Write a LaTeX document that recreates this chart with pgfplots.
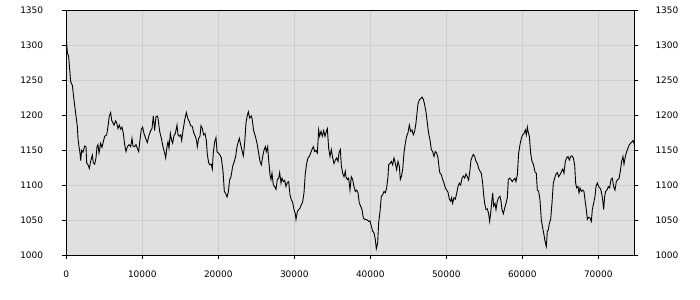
\documentclass[border=0pt]{standalone}
\usepackage{fontspec}
\setmainfont{DejaVu Sans}
\usepackage{pgfplots}
\pgfplotsset{compat=1.18}
\definecolor{bgc}{RGB}{224,224,224}
\definecolor{gridc}{RGB}{206,206,206}
\begin{document}
\begin{tikzpicture}
\path[use as bounding box] (-66.3bp,-45bp) rectangle (633.7bp,255bp);
\pgfplotsset{
  common/.style={
    at={(0,0)}, anchor=south west, scale only axis,
    width=568bp, height=244.5bp,
    xmin=0, xmax=74740, ymin=1000, ymax=1350,
    ytick={1000,1050,...,1350},
    xtick={0,10000,...,70000},
    scaled x ticks=false, scaled y ticks=false,
    tick align=outside, major tick length=4bp,
    tick style={black, line width=0.8bp},
    axis line style={black, line width=0.8bp},
    /pgf/number format/assume math mode=true,
    /pgf/number format/1000 sep={},
    tick label style={font=\fontsize{9}{10}\selectfont, text=black},
  }
}
\begin{axis}[common,
  axis background/.style={fill=bgc},
  grid=major, major grid style={gridc, line width=0.8bp},
  xtick pos=bottom, ytick pos=both,
  yticklabel style={anchor=east, inner sep=0pt, xshift=-19bp},
  xticklabel style={anchor=north, inner sep=0pt, yshift=-11.5bp},
]
\addplot[black, line width=0.9bp] coordinates {
(0,1310) (136,1290) (311,1284) (574,1248) (794,1243) (1013,1222) (1232,1203) (1451,1184) (1539,1167) (1671,1155) (1802,1146) (1890,1135) (2022,1150) (2197,1147) (2416,1156) (2592,1155) (2679,1132) (2855,1129) (3030,1124) (3206,1134) (3425,1143) (3557,1132) (3732,1130) (3908,1139) (4039,1155) (4171,1158) (4302,1146) (4522,1160) (4697,1154) (4872,1162) (5048,1170) (5311,1172) (5487,1184) (5662,1199) (5837,1204) (5969,1193) (6144,1189) (6276,1186) (6495,1192) (6627,1189) (6802,1181) (6978,1186) (7153,1180) (7329,1183) (7504,1174) (7680,1158) (7855,1148) (8030,1155) (8250,1158) (8469,1155) (8644,1167) (8776,1156) (8995,1155) (9171,1158) (9346,1153) (9522,1148) (9697,1165) (9873,1180) (10048,1183) (10223,1174) (10443,1167) (10662,1161) (10881,1171) (11101,1178) (11276,1181) (11452,1199) (11627,1178) (11802,1198) (11978,1199)
(12066,1196) (12285,1177) (12505,1167) (12724,1155) (12943,1146) (13075,1139) (13250,1155) (13382,1162) (13513,1153) (13689,1174) (13864,1164) (13996,1160) (14171,1171) (14347,1174) (14566,1186) (14698,1172) (14873,1170) (15048,1172) (15180,1164) (15356,1178) (15575,1193) (15794,1204) (15970,1196) (16189,1191) (16364,1185) (16584,1184) (16759,1175) (16978,1170) (17154,1163) (17241,1155) (17417,1167) (17592,1170) (17724,1185) (17899,1181) (18075,1172) (18250,1174) (18426,1164) (18557,1144) (18733,1132) (18908,1129) (19084,1130) (19215,1123) (19347,1147) (19522,1162) (19698,1168) (19829,1148) (20005,1146) (20180,1144) (20399,1139) (20619,1120) (20794,1091) (20969,1088) (21145,1083) (21320,1090) (21496,1108) (21671,1112) (21891,1127) (22110,1134) (22285,1141) (22461,1155) (22636,1162) (22768,1167) (22943,1158) (23119,1150) (23294,1142) (23470,1160) (23645,1189) (23820,1200) (23952,1205) (24128,1196) (24347,1199)
(24435,1196) (24654,1178) (24874,1170) (25093,1160) (25312,1146) (25488,1134) (25663,1129) (25839,1141) (26014,1150) (26189,1155) (26321,1148) (26496,1155) (26628,1136) (26803,1115) (26935,1108) (27067,1117) (27242,1100) (27417,1098) (27593,1094) (27768,1108) (27944,1110) (28075,1118) (28251,1103) (28382,1110) (28558,1105) (28733,1107) (28909,1098) (29084,1104) (29260,1105) (29435,1086) (29610,1079) (29786,1075) (29961,1065) (30137,1059) (30225,1051) (30400,1062) (30575,1065) (30751,1067) (30926,1072) (31102,1076) (31277,1089) (31453,1117) (31628,1131) (31803,1139) (31979,1141) (32154,1146) (32330,1151) (32505,1155) (32681,1148) (32856,1150) (33031,1146) (33207,1179) (33339,1170) (33514,1177) (33690,1170) (33865,1178) (34040,1170) (34216,1177) (34347,1181) (34523,1153) (34698,1141) (34874,1151) (35049,1139) (35225,1131) (35400,1136) (35575,1139) (35751,1134) (35882,1146) (36058,1151) (36189,1128) (36365,1117) (36540,1112) (36716,1120)
(36803,1112) (36978,1108) (37154,1110) (37329,1093) (37505,1112) (37680,1108) (37856,1098) (38031,1091) (38207,1093) (38382,1089) (38557,1074) (38733,1070) (38908,1065) (39084,1053) (39259,1051) (39435,1051) (39610,1050) (39785,1048) (39961,1049) (40136,1041) (40312,1034) (40487,1032) (40663,1022) (40794,1009) (40970,1017) (41101,1046) (41277,1062) (41452,1084) (41628,1086) (41803,1091) (41978,1089) (42154,1096) (42329,1112) (42417,1129) (42593,1131) (42768,1134) (42943,1129) (43119,1139) (43294,1131) (43470,1122) (43645,1134) (43821,1127) (43952,1108) (44084,1112) (44259,1122) (44435,1146) (44610,1160) (44786,1170) (44961,1175) (45136,1186) (45312,1177) (45487,1179) (45663,1172) (45838,1177) (46014,1189) (46145,1203) (46277,1216) (46452,1222) (46628,1224) (46803,1226) (46979,1223) (47154,1215) (47329,1205) (47505,1189) (47680,1174) (47856,1165) (48031,1151) (48207,1148) (48382,1141) (48557,1148) (48733,1146) (48908,1139) (49084,1122)
(49172,1117) (49347,1115) (49523,1108) (49698,1103) (49874,1096) (50049,1093) (50225,1090) (50400,1080) (50576,1077) (50707,1082) (50839,1074) (51014,1082) (51190,1080) (51365,1088) (51540,1098) (51716,1103) (51891,1100) (52067,1110) (52242,1113) (52418,1110) (52593,1116) (52769,1112) (52944,1107) (53119,1122) (53251,1136) (53426,1141) (53558,1144) (53733,1141) (53909,1134) (54084,1131) (54260,1124) (54435,1120) (54611,1117) (54786,1103) (54918,1086) (55049,1074) (55225,1065) (55400,1066) (55576,1059) (55707,1048) (55839,1060) (55970,1074) (56102,1089) (56233,1070) (56409,1074) (56540,1065) (56716,1077) (56891,1082) (57067,1084) (57198,1077) (57330,1065) (57505,1059) (57681,1067) (57856,1074) (58032,1082) (58163,1108) (58339,1110) (58514,1108) (58689,1105) (58865,1108) (59040,1110) (59172,1105) (59348,1115) (59523,1146) (59698,1158) (59874,1167) (60049,1172) (60225,1174) (60400,1179) (60532,1172) (60663,1183) (60795,1175) (60927,1170) (61102,1146) (61277,1134) (61453,1130)
(61540,1126) (61672,1119) (61847,1117) (61979,1093) (62154,1091) (62329,1079) (62505,1050) (62680,1039) (62856,1029) (62987,1020) (63163,1012) (63294,1034) (63426,1036) (63558,1045) (63733,1051) (63908,1074) (64084,1103) (64259,1110) (64435,1116) (64610,1118) (64786,1112) (64961,1115) (65137,1119) (65312,1123) (65487,1117) (65663,1134) (65838,1139) (66014,1141) (66189,1136) (66365,1141) (66540,1142) (66715,1139) (66891,1129) (67023,1103) (67154,1096) (67330,1098) (67461,1089) (67593,1096) (67768,1091) (67944,1093) (68119,1091) (68251,1079) (68426,1065) (68558,1051) (68733,1054) (68908,1053) (69084,1048) (69216,1065) (69391,1074) (69566,1084) (69698,1098) (69873,1103) (70049,1098) (70224,1096) (70400,1091) (70575,1079) (70707,1065) (70838,1084) (70970,1091) (71145,1093) (71321,1098) (71496,1096) (71672,1108) (71847,1110) (72023,1098) (72198,1093) (72373,1105) (72549,1108) (72724,1109) (72900,1120) (73075,1134) (73251,1141) (73382,1130) (73558,1141) (73733,1148) (73909,1153) (74084,1158) (74260,1160) (74435,1162) (74566,1164) (74698,1160) (74740,1158)
};
\end{axis}
\begin{axis}[common,
  hide x axis, axis y line*=right,
  yticklabel style={anchor=west, inner sep=0pt, xshift=17bp},
]
\addplot[draw=none] coordinates {(0,1000)};
\end{axis}
\end{tikzpicture}
\end{document}
